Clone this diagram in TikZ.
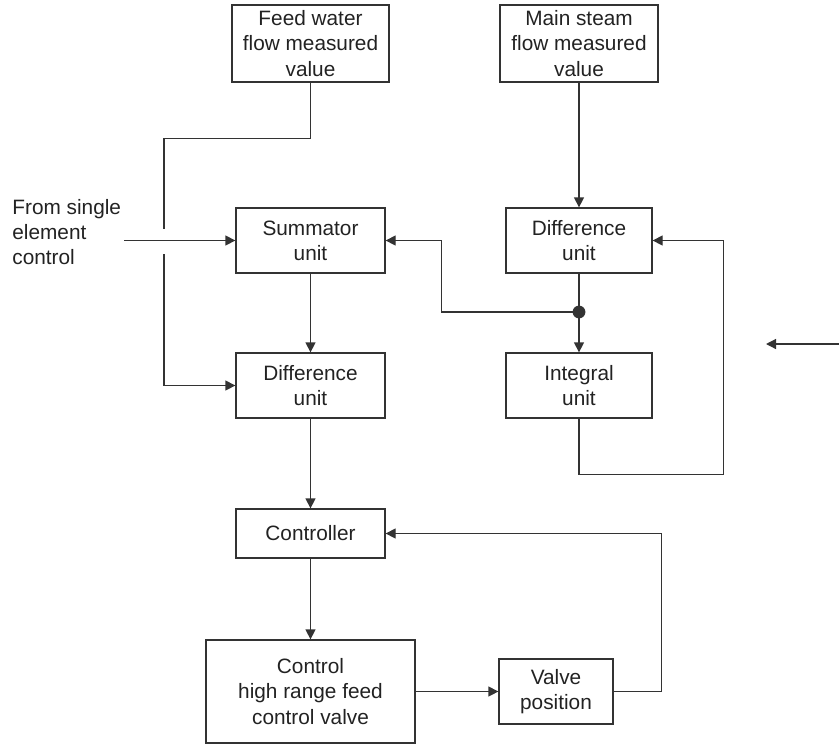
\documentclass[tikz,border=0pt]{standalone}
\usepackage{fontspec}
\setmainfont{Liberation Sans}
\usepackage{xcolor}
\definecolor{lineGray}{HTML}{333333}
\definecolor{darkText}{HTML}{222222}
\usepackage{tikz}
\usetikzlibrary{
    arrows.meta,
    calc
}
\tikzset{
    % Base style for the boxes
    block/.style={
        draw=lineGray,
        line width=0.65pt,
        rectangle,
        align=center,
        text=darkText,
        inner sep=0pt,
        font=\fontsize{10.4pt}{12.6pt}\selectfont,
    },
    % Plain connector line
    line/.style={
        draw=lineGray,
        line width=0.65pt,
    },
    % Connector with a filled triangle tip
    arrow/.style={
        line,
        -{Triangle[length=5pt, width=5pt]},
    },
    % Free text label
    plain label/.style={
        align=left,
        text=darkText,
        inner sep=0pt,
        font=\fontsize{10.4pt}{12.6pt}\selectfont,
    },
}

\begin{document}
\begin{tikzpicture}[x=0.5pt, y=-0.5pt]
    \useasboundingbox (0,0) rectangle (839,745);

    \node (feed) [block, minimum width=78.5pt, minimum height=38.5pt] at (310.5,43.5) {Feed water\\flow measured\\value};
    \node (steam) [block, minimum width=79pt, minimum height=38.5pt] at (579,43.5) {Main steam\\flow measured\\value};
    \node (summ) [block, minimum width=74.5pt, minimum height=32.5pt] at (310.5,240.5) {Summator\\unit};
    \node (diffR) [block, minimum width=73pt, minimum height=32.5pt] at (579,240.5) {Difference\\unit};
    \node (diffL) [block, minimum width=74.5pt, minimum height=32.5pt] at (310.5,385.5) {Difference\\unit};
    \node (integ) [block, minimum width=73pt, minimum height=32.5pt] at (579,385.5) {Integral\\unit};
    \node (ctrl) [block, minimum width=74.5pt, minimum height=24.5pt] at (310.5,533.5) {Controller};
    \node (valvectrl) [block, minimum width=104.5pt, minimum height=51.5pt] at (310.5,691.5) {Control\\high range feed\\control valve};
    \node (valvepos) [block, minimum width=57pt, minimum height=32.5pt] at (556,691.5) {Valve\\position};
    \node (fromsingle) [plain label, anchor=west] at (12,232) {From single\\element\\control};

    \coordinate (in) at (124,240.5);
    \coordinate (hopA) at (164,229);
    \coordinate (hopB) at (164,254);
    \coordinate (split) at (579,312);
    \coordinate (extA) at (839,344);
    \coordinate (extB) at (766,344);

    \draw [line] (feed.south) -- ++(0,56) -| (hopA);
    \draw [arrow] (hopB) |- (diffL.west);
    \draw [arrow] (in) -- (summ.west);
    \draw [arrow] (summ) -- (diffL);
    \draw [arrow] (steam) -- (diffR);
    \draw [line] (diffR.south) -- (split);
    \draw [arrow] (split) -- (integ.north);
    \draw [arrow] (split) -| ([xshift=28pt]summ.east) -- (summ.east);
    \fill [lineGray] (split) circle (3.2pt);
    \draw [arrow] (integ.south) -- ++(0,56) -| ([xshift=35.5pt]diffR.east) -- (diffR.east);
    \draw [arrow] (diffL) -- (ctrl);
    \draw [arrow] (ctrl) -- (valvectrl);
    \draw [arrow] (valvectrl) -- (valvepos);
    \draw [arrow] (valvepos.east) -- ++(48,0) |- (ctrl.east);
    \draw [arrow] (extA) -- (extB);
\end{tikzpicture}
\end{document}
